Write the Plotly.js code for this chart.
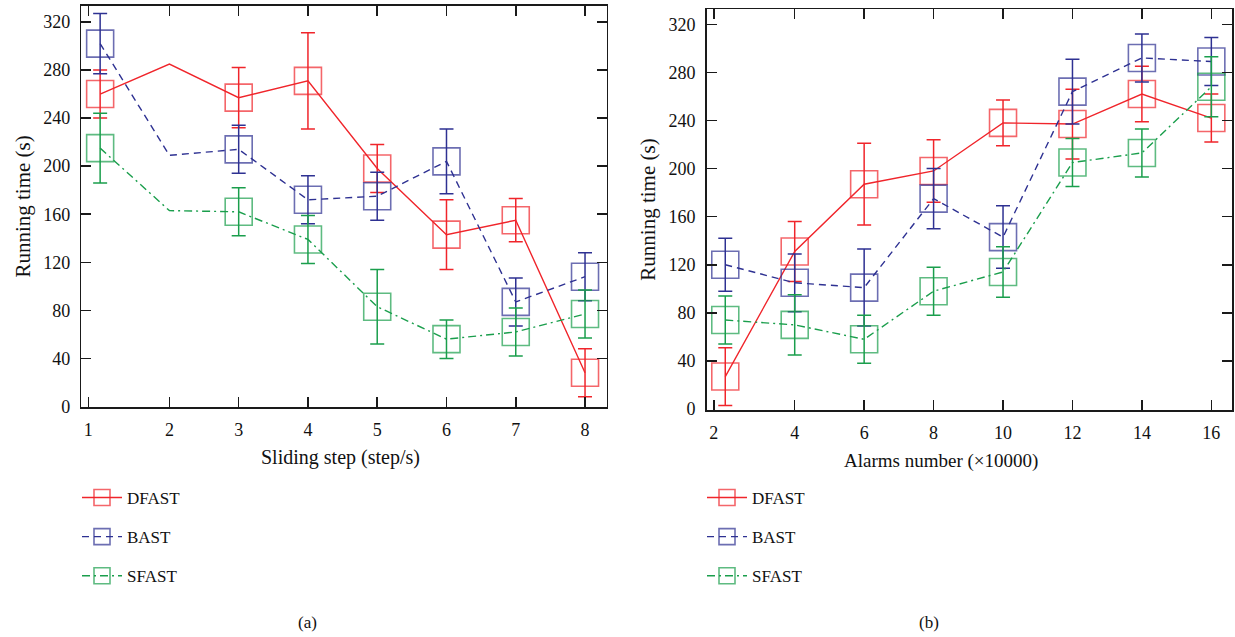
<!DOCTYPE html>
<html>
<head>
<meta charset="utf-8">
<script src="https://cdn.plot.ly/plotly-3.0.1.min.js"></script>
<style>
html,body{margin:0;padding:0;background:#fff;}
#chart{width:1235px;height:637px;}
</style>
</head>
<body>
<div id="chart"></div>
<script>
// ---- Data: (a) sliding step ----
const stepX = [1, 2, 3, 4, 5, 6, 7, 8];
const stepTickVals = [0.83, 2, 3, 4, 5, 6, 7, 8];
const stepTickText = ['1', '2', '3', '4', '5', '6', '7', '8'];
const dfastA    = [260, 285, 257, 271, 198, 143, 155, 28];
const dfastAErr = [20, null, 25, 40, 20, 29, 18, 20];
const bastA     = [302, 209, 214, 172, 175, 204, 87, 108];
const bastAErr  = [25, null, 20, 20, 20, 27, 20, 20];
const sfastA    = [215, 163, 162, 139, 83, 56, 62, 77];
const sfastAErr = [29, null, 20, 20, 31, 16, 20, 20];

// ---- Data: (b) alarms number ----
const alarmX = [2, 4, 6, 8, 10, 12, 14, 16];
const alarmTickVals = [1.67, 4, 6, 8, 10, 12, 14, 16];
const alarmTickText = ['2', '4', '6', '8', '10', '12', '14', '16'];
const dfastB    = [27, 131, 187, 198, 238, 237, 262, 242];
const dfastBErr = [24, 25, 34, 26, 19, 29, 23, 20];
const bastB     = [120, 105, 101, 175, 143, 264, 292, 289];
const bastBErr  = [22, 24, 32, 25, 26, 27, 20, 20];
const sfastB    = [74, 70, 58, 98, 114, 205, 213, 268];
const sfastBErr = [20, 25, 20, 20, 21, 20, 20, 25];

const yTicks = [0, 40, 80, 120, 160, 200, 240, 280, 320];
const seriesNames = ['DFAST', 'BAST', 'SFAST'];
const xTitleA = 'Sliding step (step/s)';
const xTitleB = 'Alarms number (×10000)';
const yTitle = 'Running time (s)';

const RED = '#f0252b', BLUE = '#2e3192', GREEN = '#1a9e4c';
const FONT = 'Liberation Serif, "Times New Roman", serif';
const MARK = 27;
const TXT = '#111';

function series(name, x, y, err, color, dash, xa, ya, lg) {
  return {
    type: 'scatter', mode: 'lines+markers', name: name, x: x, y: y,
    xaxis: xa, yaxis: ya, legend: lg, legendgroup: name + lg,
    line: {color: color, width: 1.4, dash: dash},
    marker: {symbol: 'square-open', size: err.map(e => e == null ? 0 : MARK),
             color: color, line: {width: 1.6, color: color}},
    error_y: {type: 'data', visible: true, array: err.map(e => e == null ? NaN : e),
              color: color, thickness: 1.5, width: 7},
    hoverinfo: 'x+y'
  };
}

const DASH = '7px,5px';
const DASHDOT = '8px,4px,2px,4px';

const data = [
  series(seriesNames[0], stepX, dfastA, dfastAErr, RED, 'solid', 'x', 'y', 'legend'),
  series(seriesNames[1], stepX, bastA, bastAErr, BLUE, DASH, 'x', 'y', 'legend'),
  series(seriesNames[2], stepX, sfastA, sfastAErr, GREEN, DASHDOT, 'x', 'y', 'legend'),
  series(seriesNames[0], alarmX, dfastB, dfastBErr, RED, 'solid', 'x2', 'y2', 'legend2'),
  series(seriesNames[1], alarmX, bastB, bastBErr, BLUE, DASH, 'x2', 'y2', 'legend2'),
  series(seriesNames[2], alarmX, sfastB, sfastBErr, GREEN, DASHDOT, 'x2', 'y2', 'legend2')
];

function axisBase() {
  return {
    showline: true, mirror: 'ticks', linecolor: '#1a1a1a', linewidth: 1.5,
    ticks: 'inside', ticklen: 10, tickwidth: 1.5, tickcolor: '#1a1a1a',
    showgrid: false, zeroline: false, tickfont: {family: FONT, size: 18, color: TXT},
    ticklabelstandoff: 6
  };
}

const layout = {
  width: 1235, height: 637,
  margin: {l: 0, r: 0, t: 0, b: 0},
  paper_bgcolor: '#fff', plot_bgcolor: '#fff',
  font: {family: FONT, size: 16, color: TXT},
  xaxis: Object.assign(axisBase(), {
    domain: [81.3 / 1235, 606.5 / 1235], range: [0.728, 8.31], anchor: 'y',
    tickmode: 'array', tickvals: stepTickVals, ticktext: stepTickText
  }),
  yaxis: Object.assign(axisBase(), {
    domain: [1 - 407.3 / 637, 1 - 5.5 / 637], range: [-0.7, 333.7], anchor: 'x',
    tickmode: 'array', tickvals: yTicks,
    title: {text: yTitle, font: {family: FONT, size: 21, color: TXT}, standoff: 7}
  }),
  xaxis2: Object.assign(axisBase(), {
    domain: [706.7 / 1235, 1232 / 1235], range: [1.465, 16.595], anchor: 'y2',
    tickmode: 'array', tickvals: alarmTickVals, ticktext: alarmTickText
  }),
  yaxis2: Object.assign(axisBase(), {
    domain: [1 - 410 / 637, 1 - 9 / 637], range: [-0.8, 332.7], anchor: 'x2',
    tickmode: 'array', tickvals: yTicks,
    title: {text: yTitle, font: {family: FONT, size: 21, color: TXT}, standoff: 7}
  }),
  legend: {
    x: 77 / 1235, y: 1 - 480 / 637, xanchor: 'left', yanchor: 'top',
    bgcolor: 'rgba(0,0,0,0)', font: {family: FONT, size: 17, color: TXT},
    tracegroupgap: 14, itemwidth: 40
  },
  legend2: {
    x: 702 / 1235, y: 1 - 480 / 637, xanchor: 'left', yanchor: 'top',
    bgcolor: 'rgba(0,0,0,0)', font: {family: FONT, size: 17, color: TXT},
    tracegroupgap: 14, itemwidth: 40
  },
  showlegend: true,
  annotations: [
    {text: xTitleA, xref: 'paper', yref: 'paper', x: 340 / 1235, y: 1 - 457 / 637,
     xanchor: 'center', yanchor: 'middle', showarrow: false, font: {family: FONT, size: 20, color: TXT}},
    {text: xTitleB, xref: 'paper', yref: 'paper', x: 941 / 1235, y: 1 - 461 / 637,
     xanchor: 'center', yanchor: 'middle', showarrow: false, font: {family: FONT, size: 19, color: TXT}},
    {text: '(a)', xref: 'paper', yref: 'paper', x: 307 / 1235, y: 1 - 622 / 637,
     xanchor: 'center', yanchor: 'middle', showarrow: false, font: {family: FONT, size: 17, color: TXT}},
    {text: '(b)', xref: 'paper', yref: 'paper', x: 929 / 1235, y: 1 - 622 / 637,
     xanchor: 'center', yanchor: 'middle', showarrow: false, font: {family: FONT, size: 17, color: TXT}}
  ]
};

Plotly.newPlot('chart', data, layout, {displayModeBar: false, staticPlot: true});
</script>
</body>
</html>
